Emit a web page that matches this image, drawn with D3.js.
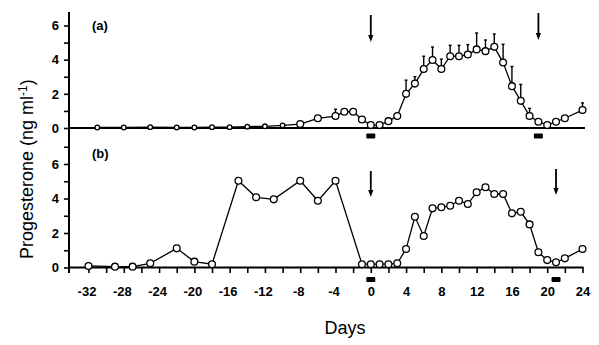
<!DOCTYPE html>
<html>
<head>
<meta charset="utf-8">
<script src="https://cdn.jsdelivr.net/npm/d3@7"></script>
<style>
  html, body { margin: 0; padding: 0; background: #fff; }
  svg { display: block; }
  text { font-family: "Liberation Sans", Arial, Helvetica, sans-serif; fill: #000; }
</style>
</head>
<body>
<svg id="chart" width="599" height="345"></svg>
<script>
// Panel (a): mean plasma progesterone with upper error bars
const topDays = [-31, -28, -25, -22, -20, -18, -16, -14, -12, -10, -8, -6, -4, -3, -2, -1,
  0, 1, 2, 3, 4, 5, 6, 7, 8, 9, 10, 11, 12, 13, 14, 15, 16, 17, 18, 19, 20, 21, 22, 24];
const topValues = [0.03, 0.03, 0.05, 0.03, 0.03, 0.05, 0.05, 0.08, 0.1, 0.15, 0.23, 0.57, 0.7, 0.95, 0.95, 0.5,
  0.17, 0.17, 0.4, 0.7, 2.0, 2.6, 3.45, 3.98, 3.45, 4.2, 4.2, 4.3, 4.6, 4.5, 4.75, 3.83, 2.45, 1.59, 0.7, 0.37, 0.17, 0.37, 0.57, 1.05];
// Upper ends of the error bars (same units), keyed by day
const errDays = [-4, 4, 5, 6, 7, 8, 9, 10, 11, 12, 13, 14, 15, 16, 17, 18, 24];
const errTops = [1.1, 2.8, 3.0, 4.2, 4.74, 4.03, 4.84, 4.84, 4.88, 5.56, 5.15, 5.5, 4.9, 3.6, 2.55, 1.15, 1.47];

// Panel (b): single animal
const botDays = [-32, -29, -27, -25, -22, -20, -18, -15, -13, -11, -8, -6, -4, -1, 0, 1, 2, 3,
  4, 5, 6, 7, 8, 9, 10, 11, 12, 13, 14, 15, 16, 17, 18, 19, 20, 21, 22, 24];
const botValues = [0.09, 0.05, 0.05, 0.24, 1.11, 0.34, 0.19, 5.03, 4.07, 3.95, 5.03, 3.87, 5.03, 0.19, 0.19, 0.19, 0.19, 0.24,
  1.07, 2.94, 1.83, 3.43, 3.49, 3.58, 3.87, 3.68, 4.36, 4.65, 4.26, 4.26, 3.14, 3.23, 2.5, 0.88, 0.43, 0.3, 0.53, 1.07];

// Event markers (arrows above, bars below) in days
const topArrows = [0, 19];
const botArrows = [0, 21];

const xTicks = d3.range(-32, 25, 2);
const yTicks = [0, 1, 2, 3, 4, 5, 6, 7];

const svg = d3.select("#chart");

const x = d3.scaleLinear().domain([-32, 24]).range([88.5, 582.5]);
const yTop = d3.scaleLinear().domain([0, 6]).range([128, 25.5]);
const yBot = d3.scaleLinear().domain([0, 6]).range([267.5, 164]);

const axisX = 69;

// continuous left axis
svg.append("line")
  .attr("x1", axisX).attr("x2", axisX)
  .attr("y1", 12).attr("y2", 273)
  .attr("stroke", "#000").attr("stroke-width", 2);

function yAxis(scale, ticks) {
  const g = svg.append("g").attr("transform", `translate(${axisX},0)`)
    .call(d3.axisLeft(scale).tickValues(ticks).tickSize(5).tickPadding(5)
      .tickFormat(d => d % 2 === 0 ? d : ""));
  g.select(".domain").remove();
  g.selectAll(".tick line").attr("stroke", "#000").attr("stroke-width", 1.6);
  g.selectAll(".tick text")
    .style("font-size", "13px").style("font-weight", "bold")
    .style("font-family", "'Liberation Sans', Arial, sans-serif");
}
yAxis(yTop, [0, 1, 2, 3, 4, 5, 6]);
yAxis(yBot, yTicks);

// top panel baseline
svg.append("line")
  .attr("x1", axisX).attr("x2", 585)
  .attr("y1", yTop(0)).attr("y2", yTop(0))
  .attr("stroke", "#000").attr("stroke-width", 2);

// bottom x axis
const gx = svg.append("g").attr("transform", `translate(0,${yBot(0)})`)
  .call(d3.axisBottom(x).tickValues(xTicks).tickSize(5.5).tickPadding(14)
    .tickFormat(d => d % 4 === 0 ? String(d) : ""));
gx.select(".domain").remove();
gx.selectAll(".tick line").attr("stroke", "#000").attr("stroke-width", 1.6);
gx.selectAll(".tick text")
  .style("font-size", "13px").style("font-weight", "bold")
  .style("font-family", "'Liberation Sans', Arial, sans-serif")
  .attr("dx", d => d < 0 ? -2 : 0);
svg.append("line")
  .attr("x1", axisX).attr("x2", 583.5)
  .attr("y1", yBot(0)).attr("y2", yBot(0))
  .attr("stroke", "#000").attr("stroke-width", 2);

// error bars (panel a)
const errG = svg.append("g");
errDays.forEach((d, i) => {
  const v = topValues[topDays.indexOf(d)];
  errG.append("line")
    .attr("x1", x(d)).attr("x2", x(d))
    .attr("y1", yTop(v)).attr("y2", yTop(errTops[i]))
    .attr("stroke", "#000").attr("stroke-width", 1.4);
  errG.append("line")
    .attr("x1", x(d) - 1.5).attr("x2", x(d) + 1.5)
    .attr("y1", yTop(errTops[i])).attr("y2", yTop(errTops[i]))
    .attr("stroke", "#000").attr("stroke-width", 1.4);
});

function series(days, vals, yScale, r) {
  const pts = days.map((d, i) => [d, vals[i]]);
  svg.append("path")
    .attr("d", d3.line().x(p => x(p[0])).y(p => yScale(p[1]))(pts))
    .attr("fill", "none").attr("stroke", "#000").attr("stroke-width", 1.3);
  svg.append("g").selectAll("circle").data(pts).join("circle")
    .attr("cx", p => x(p[0])).attr("cy", p => yScale(p[1]))
    .attr("r", p => typeof r === "function" ? r(p) : r)
    .attr("fill", "#fff").attr("stroke", "#000").attr("stroke-width", 1.3);
}
series(topDays, topValues, yTop, p => p[0] < -9 ? 2.3 : 3.4);
series(botDays, botValues, yBot, 3.4);

// arrows and bars marking events
function arrow(day, yStart, yEnd) {
  const cx = x(day);
  svg.append("line").attr("x1", cx).attr("x2", cx)
    .attr("y1", yStart).attr("y2", yEnd - 5)
    .attr("stroke", "#000").attr("stroke-width", 1.8);
  svg.append("path")
    .attr("d", `M${cx - 2.6},${yEnd - 7} L${cx + 2.6},${yEnd - 7} L${cx},${yEnd} Z`)
    .attr("fill", "#000");
}
function bar(day, yc) {
  svg.append("rect")
    .attr("x", x(day) - 4.5).attr("y", yc - 2.5)
    .attr("width", 9).attr("height", 5).attr("rx", 1)
    .attr("fill", "#000");
}
arrow(topArrows[0], 15, 42);
arrow(topArrows[1], 13, 40);
topArrows.forEach(d => bar(d, 136));
arrow(botArrows[0], 171, 197);
arrow(botArrows[1], 169, 195);
botArrows.forEach(d => bar(d, 279.5));

// panel letters
svg.append("text").attr("x", 92).attr("y", 30)
  .style("font-size", "13px").style("font-weight", "bold").text("(a)");
svg.append("text").attr("x", 92).attr("y", 158)
  .style("font-size", "13px").style("font-weight", "bold").text("(b)");

// axis titles
svg.append("text").attr("x", 345).attr("y", 334)
  .attr("text-anchor", "middle").style("font-size", "18px").text("Days");

const yt = svg.append("text")
  .attr("transform", "translate(33,259) rotate(-90)")
  .attr("text-anchor", "start").style("font-size", "18px");
yt.append("tspan").text("Progesterone (ng ml");
yt.append("tspan").attr("dy", -6).style("font-size", "12px").text("-1");
yt.append("tspan").attr("dy", 6).text(")");
</script>
</body>
</html>
